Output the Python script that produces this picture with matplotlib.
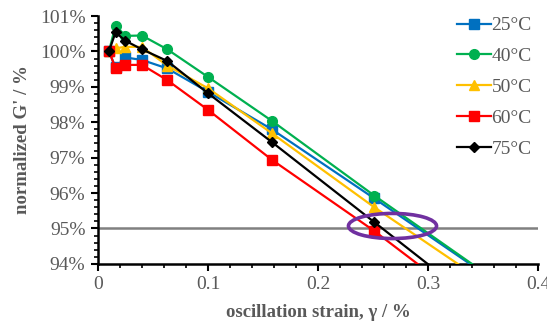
import matplotlib.pyplot as plt
from matplotlib.patches import Ellipse
from matplotlib.ticker import MultipleLocator, FuncFormatter

strain = [0.01, 0.016, 0.025, 0.04, 0.063, 0.1, 0.158, 0.251, 0.398]
g_25 = [100.0, 99.55, 99.83, 99.76, 99.52, 98.86, 97.80, 95.85, 92.72]
g_40 = [100.0, 100.73, 100.44, 100.45, 100.06, 99.28, 98.04, 95.93, 92.73]
g_50 = [100.0, 100.09, 100.13, 100.13, 99.60, 98.96, 97.69, 95.60, 92.50]
g_60 = [100.02, 99.52, 99.62, 99.62, 99.19, 98.35, 96.94, 94.93, 91.45]
g_75 = [100.0, 100.54, 100.30, 100.06, 99.73, 98.82, 97.44, 95.18, 91.60]
labels = ["25°C", "40°C", "50°C", "60°C", "75°C"]

grey = "#595959"
plt.rcParams["font.family"] = ["Liberation Serif", "DejaVu Serif"]

fig = plt.figure(figsize=(5.47, 3.21), dpi=100)
ax = fig.add_axes([0.179, 0.178, 0.805, 0.772])

ax.axhline(95, color="#808080", lw=1.8, zorder=1)

series = [
    (g_25, "#0070C0", "s", 7),
    (g_40, "#00B050", "o", 7),
    (g_50, "#FFC000", "^", 7.5),
    (g_60, "#FF0000", "s", 7),
    (g_75, "#000000", "D", 5),
]
for (vals, col, mk, ms), lab in zip(series, labels):
    ax.plot(strain, vals, color=col, marker=mk, markersize=ms, lw=1.6, label=lab, zorder=3)

# highlight of the 95% crossing
ax.add_patch(Ellipse((0.2676, 95.07), 0.08, 0.71, fill=False, edgecolor="#7030A0", lw=2.6, zorder=4))

ax.set_xlim(0, 0.4)
ax.set_ylim(94, 101)
ax.xaxis.set_major_locator(MultipleLocator(0.1))
ax.xaxis.set_minor_locator(MultipleLocator(0.02))
ax.yaxis.set_major_locator(MultipleLocator(1))
ax.yaxis.set_minor_locator(MultipleLocator(0.2))
ax.xaxis.set_major_formatter(FuncFormatter(lambda v, p: "0" if v == 0 else f"{v:g}"))
ax.yaxis.set_major_formatter(FuncFormatter(lambda v, p: f"{v:.0f}%"))

for s in ["top", "right"]:
    ax.spines[s].set_visible(False)
for s in ["left", "bottom"]:
    ax.spines[s].set_linewidth(1.8)
ax.tick_params(which="major", length=5, width=1.5, labelsize=14, labelcolor=grey, pad=4)
ax.tick_params(which="minor", length=3, width=1.2)

ax.set_xlabel("oscillation strain, γ / %", fontsize=13.5, fontweight="bold", color=grey, labelpad=8)
ax.set_ylabel("normalized G' / %", fontsize=13.5, fontweight="bold", color=grey, labelpad=6)

ax.legend(loc="upper right", bbox_to_anchor=(1.025, 1.068), frameon=False, fontsize=14,
          handlelength=1.75, handletextpad=0.05, labelspacing=0.68, labelcolor=grey)

fig.savefig("out.png", dpi=100)
